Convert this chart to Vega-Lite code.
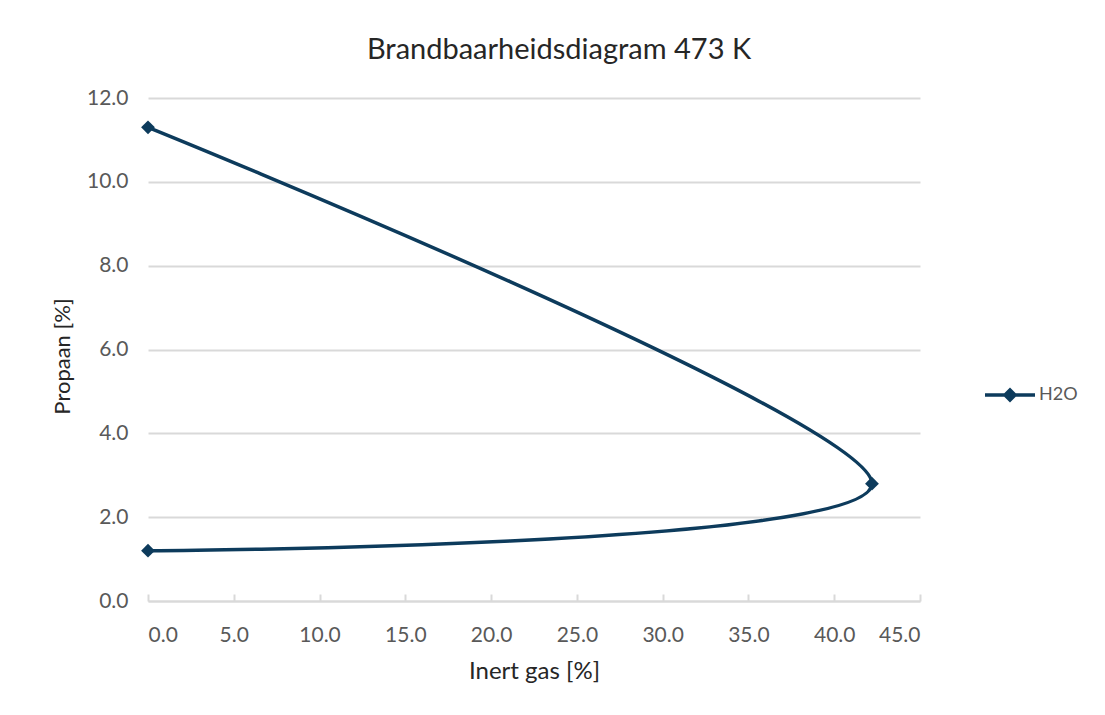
{
  "$schema": "https://vega.github.io/schema/vega-lite/v6.json",
  "width": 772,
  "height": 503,
  "autosize": {"type": "none"},
  "padding": {"left": 148, "top": 98, "right": 185, "bottom": 114},
  "background": "white",
  "config": {
    "font": "Lato",
    "view": {"stroke": null},
    "axis": {"labelFont": "Lato", "titleFont": "Lato"}
  },
  "title": {
    "text": "Brandbaarheidsdiagram 473 K",
    "font": "Lato",
    "fontSize": 29,
    "fontWeight": "normal",
    "color": "#262626",
    "anchor": "middle",
    "dx": 25,
    "offset": 22
  },
  "data": {
    "values": [
      {"inert": 0, "propaan": 11.3, "order": 1, "serie": "H2O"},
      {"inert": 42.2, "propaan": 2.8, "order": 2, "serie": "H2O"},
      {"inert": 0, "propaan": 1.2, "order": 3, "serie": "H2O"}
    ]
  },
  "mark": {
    "type": "line",
    "interpolate": "cardinal",
    "tension": 0.1,
    "strokeWidth": 3.5,
    "point": {"shape": "diamond", "size": 190, "filled": true, "color": "#0d3b5c", "opacity": 1}
  },
  "encoding": {
    "x": {
      "field": "inert",
      "type": "quantitative",
      "scale": {"domain": [0, 45], "nice": false, "zero": false},
      "axis": {
        "title": "Inert gas [%]",
        "values": [0, 5, 10, 15, 20, 25, 30, 35, 40, 45],
        "format": ".1f",
        "grid": false,
        "domain": true,
        "domainColor": "#d9d9d9",
        "domainWidth": 2,
        "ticks": true,
        "tickColor": "#d9d9d9",
        "tickWidth": 2,
        "tickSize": -7,
        "labelFontSize": 21,
        "labelColor": "#595959",
        "labelPadding": 30,
        "titleFontSize": 24,
        "titleFontWeight": "normal",
        "titleColor": "#262626",
        "titlePadding": 14
      }
    },
    "y": {
      "field": "propaan",
      "type": "quantitative",
      "scale": {"domain": [0, 12], "nice": false, "zero": false},
      "axis": {
        "title": "Propaan [%]",
        "values": [0, 2, 4, 6, 8, 10, 12],
        "format": ".1f",
        "grid": true,
        "gridColor": "#d9d9d9",
        "gridWidth": 2,
        "domain": false,
        "ticks": false,
        "labelFontSize": 21,
        "labelColor": "#595959",
        "labelPadding": 20,
        "titleFontSize": 22,
        "titleFontWeight": "normal",
        "titleColor": "#262626",
        "titlePadding": 12,
        "titleY": 258
      }
    },
    "order": {"field": "order", "type": "quantitative"},
    "color": {
      "field": "serie",
      "type": "nominal",
      "scale": {"domain": ["H2O"], "range": ["#0d3b5c"]},
      "legend": {
        "title": null,
        "orient": "none",
        "legendX": 835,
        "legendY": 270,
        "symbolType": "M-1,0L1,0M-0.2,0L0,-0.2L0.2,0L0,0.2Z",
        "symbolSize": 2500,
        "symbolStrokeWidth": 3.5,
        "symbolStrokeColor": "#0d3b5c",
        "symbolFillColor": "#0d3b5c",
        "symbolOffset": 0,
        "labelOffset": 2,
        "labelFontSize": 18,
        "labelColor": "#595959",
        "labelFont": "Lato",
        "padding": 0,
        "encode": {"symbols": {"update": {"fill": {"value": "#0d3b5c"}, "stroke": {"value": "#0d3b5c"}, "opacity": {"value": 1}}}}
      }
    }
  }
}
